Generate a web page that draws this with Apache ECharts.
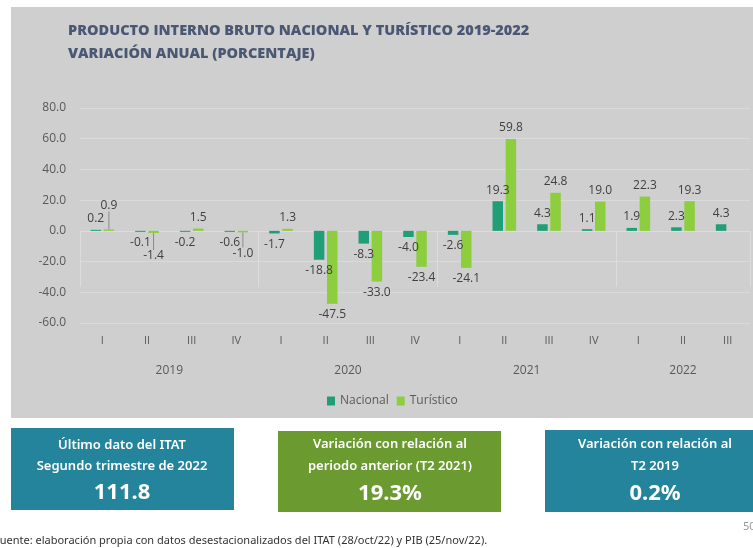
<!DOCTYPE html>
<html>
<head>
<meta charset="utf-8">
<title>PIB nacional y turístico</title>
<script src="https://cdn.jsdelivr.net/npm/echarts@6/dist/echarts.min.js"></script>
<style>
  html, body { margin: 0; padding: 0; background: #fff; }
  #chart { width: 753px; height: 548px; }
</style>
</head>
<body>
<div id="chart"></div>
<script>
// datos
var quarters = ['I', 'II', 'III', 'IV', 'I', 'II', 'III', 'IV', 'I', 'II', 'III', 'IV', 'I', 'II', 'III']
var years = ['2019', '2020', '2021', '2022']
var quartersPerYear = [4, 4, 4, 3]
var nacional = [0.2, -0.1, -0.2, -0.6, -1.7, -18.8, -8.3, -4.0, -2.6, 19.3, 4.3, 1.1, 1.9, 2.3, 4.3]
var turistico = [0.9, -1.4, 1.5, -1.0, 1.3, -47.5, -33.0, -23.4, -24.1, 59.8, 24.8, 19.0, 22.3, 19.3, null]
var yTicks = [-60, 80, 20] // min, max, interval

// etiquetas movidas a mano en el original (con línea guía)
var turisticoLabelShift = { 0: -13, 1: 12, 3: 10 }

// centro de cada año en unidades de categoría
var yearCenters = {}
var acc = 0
quartersPerYear.forEach(function (n, i) {
  yearCenters[(acc + n / 2).toFixed(1)] = years[i]
  acc += n
})

var turisticoData = turistico.map(function (v, i) {
  if (turisticoLabelShift[i]) {
    return { value: v, labelLine: { show: true, lineStyle: { color: '#8a8a8a', width: 1 } } }
  }
  return v
})

var labelFont = { color: '#404040', fontSize: 12, fontFamily: 'Open Sans' }
var boxFont = '600 13px "Noto Sans"'
var boxBig = 'bold 22px "Noto Sans"'

var chart = echarts.init(document.getElementById('chart'))

chart.setOption({
  backgroundColor: '#ffffff',
  animation: false,
  graphic: [
    { type: 'rect', z: -10, shape: { x: 11, y: 7, width: 760, height: 411 }, style: { fill: '#cfcfcf' } },
    { type: 'text', left: 68, top: 23, style: { text: 'PRODUCTO INTERNO BRUTO NACIONAL Y TURÍSTICO 2019-2022', fill: '#4a5874', font: '800 14.5px "Open Sans"' } },
    { type: 'text', left: 68, top: 46, style: { text: 'VARIACIÓN ANUAL (PORCENTAJE)', fill: '#4a5874', font: '800 14.5px "Open Sans"' } },

    { type: 'rect', shape: { x: 11, y: 428, width: 223, height: 82 }, style: { fill: '#23849b' } },
    { type: 'text', x: 122, y: 445, style: { text: 'Último dato del ITAT', fill: '#fff', font: boxFont, align: 'center', verticalAlign: 'middle' } },
    { type: 'text', x: 122, y: 466, style: { text: 'Segundo trimestre de 2022', fill: '#fff', font: boxFont, align: 'center', verticalAlign: 'middle' } },
    { type: 'text', x: 122, y: 493, style: { text: '111.8', fill: '#fff', font: boxBig, align: 'center', verticalAlign: 'middle' } },

    { type: 'rect', shape: { x: 278, y: 431, width: 223, height: 81 }, style: { fill: '#6a9a30' } },
    { type: 'text', x: 390, y: 444, style: { text: 'Variación con relación al', fill: '#fff', font: boxFont, align: 'center', verticalAlign: 'middle' } },
    { type: 'text', x: 390, y: 466, style: { text: 'periodo anterior (T2 2021)', fill: '#fff', font: boxFont, align: 'center', verticalAlign: 'middle' } },
    { type: 'text', x: 390, y: 494, style: { text: '19.3%', fill: '#fff', font: boxBig, align: 'center', verticalAlign: 'middle' } },

    { type: 'rect', shape: { x: 545, y: 430, width: 220, height: 82 }, style: { fill: '#23849b' } },
    { type: 'text', x: 655, y: 444, style: { text: 'Variación con relación al', fill: '#fff', font: boxFont, align: 'center', verticalAlign: 'middle' } },
    { type: 'text', x: 655, y: 466, style: { text: 'T2 2019', fill: '#fff', font: boxFont, align: 'center', verticalAlign: 'middle' } },
    { type: 'text', x: 655, y: 494, style: { text: '0.2%', fill: '#fff', font: boxBig, align: 'center', verticalAlign: 'middle' } },

    { type: 'text', x: -6, y: 541, style: { text: 'Fuente: elaboración propia con datos desestacionalizados del ITAT (28/oct/22) y PIB (25/nov/22).', fill: '#333', font: '11px "Noto Sans"', verticalAlign: 'middle' } },
    { type: 'text', x: 743, y: 527, style: { text: '50', fill: '#999', font: '11px "Noto Sans"', verticalAlign: 'middle' } }
  ],
  legend: {
    data: ['Nacional', 'Turístico'],
    left: 322,
    top: 390,
    itemWidth: 8,
    itemHeight: 9,
    itemGap: 8,
    icon: 'rect',
    textStyle: { color: '#595959', fontSize: 12, fontFamily: 'Open Sans' }
  },
  grid: { left: 80, right: 0, top: 108, bottom: 225, containLabel: false },
  xAxis: [
    {
      type: 'category',
      data: quarters,
      position: 'bottom',
      axisLine: { show: true, lineStyle: { color: '#dcdcdc' } },
      axisTick: {
        show: true,
        length: 56,
        interval: function (i) { return i === 0 || i === 4 || i === 8 || i === 12 },
        lineStyle: { color: '#dcdcdc' }
      },
      axisLabel: { color: '#595959', fontSize: 11, margin: 12, fontFamily: 'Open Sans' }
    },
    {
      type: 'value',
      position: 'bottom',
      min: 0,
      max: quarters.length,
      interval: 0.5,
      offset: 34,
      axisLine: { show: false },
      axisTick: { show: false },
      splitLine: { show: false },
      axisLabel: {
        color: '#595959',
        fontSize: 12,
        fontFamily: 'Open Sans',
        formatter: function (v) { return yearCenters[v.toFixed(1)] || '' }
      }
    }
  ],
  yAxis: {
    type: 'value',
    min: yTicks[0],
    max: yTicks[1],
    interval: yTicks[2],
    axisLine: { show: false },
    axisTick: { show: false },
    axisLabel: {
      color: '#595959',
      fontSize: 12,
      margin: 14,
      fontFamily: 'Open Sans',
      formatter: function (v) { return v.toFixed(1) }
    },
    splitLine: { lineStyle: { color: '#dadada', width: 1 } }
  },
  series: [
    {
      name: 'Nacional',
      type: 'bar',
      xAxisIndex: 0,
      data: nacional,
      barWidth: 10.5,
      barGap: '25%',
      barMinHeight: 1,
      itemStyle: { color: '#1f9e78' },
      label: {
        show: true,
        position: 'outside',
        distance: 5,
        formatter: function (p) { return p.value.toFixed(1) },
        color: labelFont.color,
        fontSize: labelFont.fontSize,
        fontFamily: labelFont.fontFamily
      }
    },
    {
      name: 'Turístico',
      type: 'bar',
      xAxisIndex: 0,
      data: turisticoData,
      barWidth: 10.5,
      barMinHeight: 1,
      itemStyle: { color: '#8cce3e' },
      label: {
        show: true,
        position: 'outside',
        distance: 5,
        formatter: function (p) { return p.value == null ? '' : p.value.toFixed(1) },
        color: labelFont.color,
        fontSize: labelFont.fontSize,
        fontFamily: labelFont.fontFamily
      },
      labelLine: { show: false },
      labelLayout: function (p) {
        var dy = turisticoLabelShift[p.dataIndex]
        return dy ? { dy: dy } : {}
      }
    }
  ]
})
</script>
</body>
</html>
